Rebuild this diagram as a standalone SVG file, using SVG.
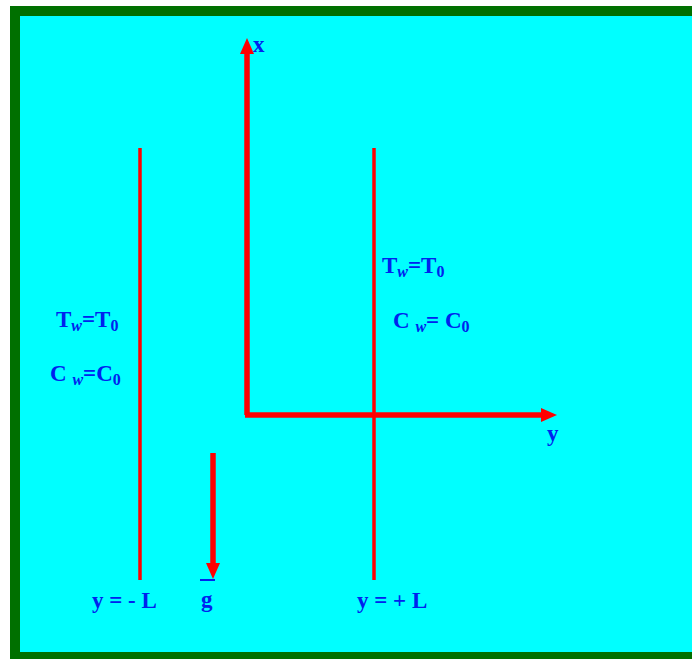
<svg xmlns="http://www.w3.org/2000/svg" width="692" height="659" viewBox="0 0 692 659">
<style>
.lbl{font-family:"Liberation Serif","Times New Roman",serif;font-weight:bold;fill:#0022ee;font-size:23px}
.sub{font-size:16px}
.ax{stroke:#ff0000;stroke-width:5.5;fill:none}
.wall{stroke:#ff0000;stroke-width:3.5;fill:none}
.head{fill:#ff0000}
</style>
<rect x="0" y="0" width="692" height="659" fill="#ffffff"/>
<rect x="15" y="11" width="690" height="646" fill="#00ffff" stroke="#007000" stroke-width="10"/>
<g id="connectors">
  <line class="ax" x1="247" y1="415" x2="247" y2="52"/>
  <polygon class="head" points="247,38 240,54 254,54"/>
  <line class="ax" x1="245" y1="415" x2="543" y2="415"/>
  <polygon class="head" points="557,415 541,408 541,422"/>
  <line class="ax" x1="213" y1="453" x2="213" y2="566"/>
  <polygon class="head" points="213,579 206,563 220,563"/>
</g>
<g id="wall-left">
  <line class="wall" x1="140" y1="148" x2="140" y2="580"/>
  <text class="lbl" x="56" y="327">T<tspan class="sub" font-style="italic" dy="4">w</tspan><tspan dy="-4">=T</tspan><tspan class="sub" dy="4">0</tspan></text>
  <text class="lbl" x="50" y="381">C <tspan class="sub" font-style="italic" dy="4">w</tspan><tspan dy="-4">=C</tspan><tspan class="sub" dy="4">0</tspan></text>
  <text class="lbl" x="92" y="608">y = - L</text>
</g>
<g id="wall-right">
  <line class="wall" x1="374" y1="148" x2="374" y2="580"/>
  <text class="lbl" x="382" y="273">T<tspan class="sub" font-style="italic" dy="4">w</tspan><tspan dy="-4">=T</tspan><tspan class="sub" dy="4">0</tspan></text>
  <text class="lbl" x="393" y="328">C <tspan class="sub" font-style="italic" dy="4">w</tspan><tspan dy="-4">= C</tspan><tspan class="sub" dy="4">0</tspan></text>
  <text class="lbl" x="357" y="608">y = + L</text>
</g>
<g id="axis-x"><text class="lbl" x="253" y="52" font-size="21">x</text></g>
<g id="axis-y"><text class="lbl" x="547" y="441" font-size="21">y</text></g>
<g id="gravity">
  <line x1="200" y1="580" x2="215" y2="580" stroke="#0022ee" stroke-width="2"/>
  <text class="lbl" x="201" y="607">g</text>
</g>
</svg>
